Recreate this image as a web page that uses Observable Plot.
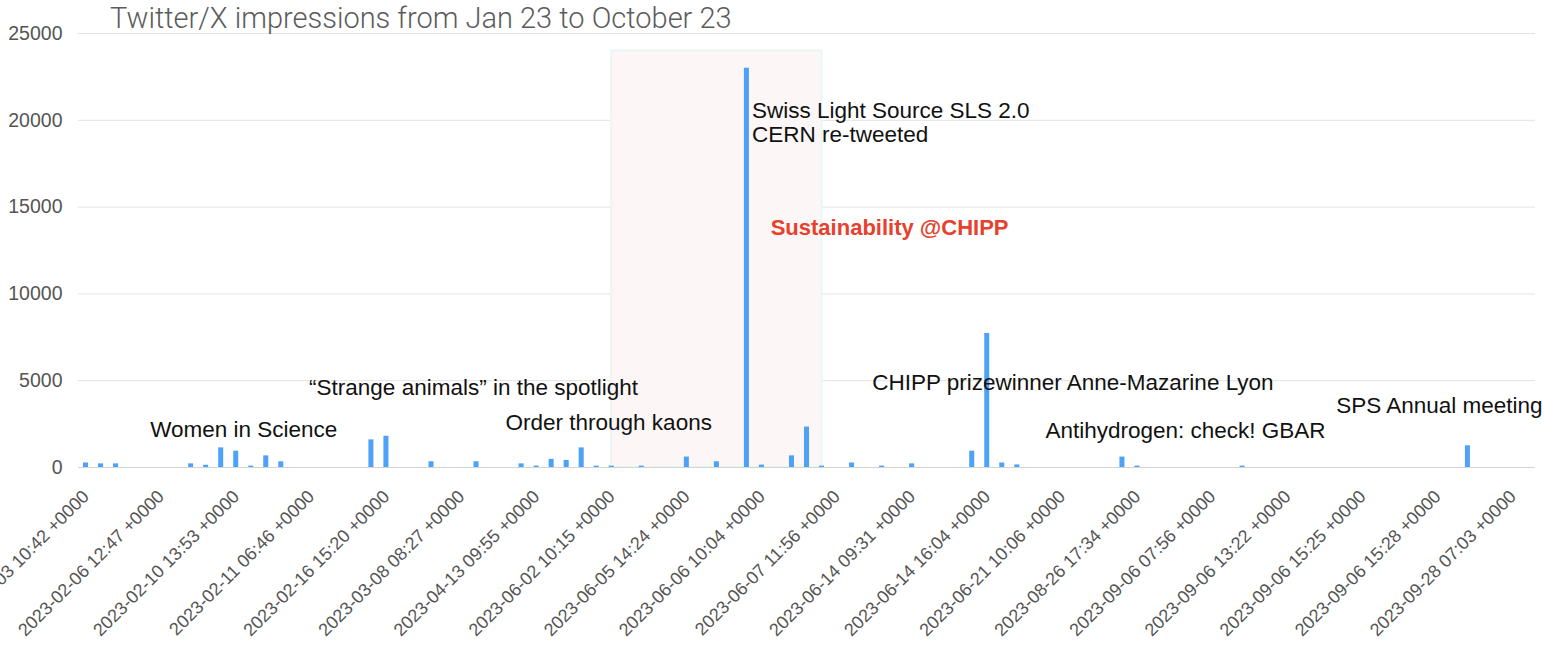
<!DOCTYPE html>
<html><head><meta charset="utf-8">
<script src="https://cdn.jsdelivr.net/npm/d3@7"></script>
<script src="https://cdn.jsdelivr.net/npm/@observablehq/plot@0.6"></script>
<style>
body{margin:0;background:#fff;}
#wrap{position:relative;width:1545px;height:647px;overflow:hidden;}
#title{position:absolute;left:110px;top:1px;font:300 29px Roboto;color:#5c5c5c;white-space:nowrap;}
</style></head><body>
<div id="wrap"><div id="title">Twitter/X impressions from Jan 23 to October 23</div></div>
<script>
// tick labels shown every 5th slot
const tickLabels = [
  "2023-02-03 10:42 +0000","2023-02-06 12:47 +0000","2023-02-10 13:53 +0000","2023-02-11 06:46 +0000",
  "2023-02-16 15:20 +0000","2023-03-08 08:27 +0000","2023-04-13 09:55 +0000","2023-06-02 10:15 +0000",
  "2023-06-05 14:24 +0000","2023-06-06 10:04 +0000","2023-06-07 11:56 +0000","2023-06-14 09:31 +0000",
  "2023-06-14 16:04 +0000","2023-06-21 10:06 +0000","2023-08-26 17:34 +0000","2023-09-06 07:56 +0000",
  "2023-09-06 13:22 +0000","2023-09-06 15:25 +0000","2023-09-06 15:28 +0000","2023-09-28 07:03 +0000"
];
const slotCount = 97;
// slot index of each non-zero bar and its impressions
const barIndex = [0,1,2,7,8,9,10,11,12,13,19,20,23,26,29,30,31,32,33,34,35,37,40,42,44,45,47,48,49,51,53,55,59,60,61,62,69,70,77,92];
const barValue = [260,210,210,210,130,1130,940,80,670,330,1590,1800,330,330,210,80,470,410,1130,80,80,80,600,330,23000,140,670,2330,80,260,80,210,940,7720,260,150,600,80,80,1250];
const yTicks = [0,5000,10000,15000,20000,25000];

// highlighted period
const highlightFrom = [35];
const highlightTo = [49];
const highlightTop = [24000];

// annotations (slot position, value position)
const noteLabels = ["Women in Science","\u201cStrange animals\u201d in the spotlight","Order through kaons","CHIPP prizewinner Anne-Mazarine Lyon","Antihydrogen: check! GBAR","SPS Annual meeting"];
const noteX = [10.5,25.8,34.8,65.7,73.2,90.1];
const noteY = [2190,4610,2590,4900,2130,3570];
const leftNoteLabels = ["Swiss Light Source SLS 2.0\nCERN re-tweeted"];
const leftNoteX = [44];
const leftNoteY = [19900];
const redNoteLabels = ["Sustainability @CHIPP"];
const redNoteX = [53.5];
const redNoteY = [13820];

const bars = barIndex.map((i, k) => ({i, v: barValue[k]}));
const highlight = highlightFrom.map((f, k) => ({from: f, to: highlightTo[k], top: highlightTop[k]}));
const notes = noteLabels.map((t, k) => ({t, x: noteX[k], y: noteY[k]}));
const leftNotes = leftNoteLabels.map((t, k) => ({t, x: leftNoteX[k], y: leftNoteY[k]}));
const redNotes = redNoteLabels.map((t, k) => ({t, x: redNoteX[k], y: redNoteY[k]}));

const chart = Plot.plot({
  width: 1545,
  height: 647,
  marginLeft: 78,
  marginRight: 10,
  marginTop: 33,
  marginBottom: 180,
  style: {fontFamily: "Liberation Sans, Arial, sans-serif", background: "transparent"},
  x: {domain: [-0.5, slotCount - 0.5]},
  y: {domain: [0, 25000]},
  marks: [
    Plot.ruleY(yTicks.slice(1), {stroke: "#e3e3e3", strokeWidth: 1}),
    Plot.rect(highlight, {x1: "from", x2: "to", y1: 0, y2: "top", fill: "#fcf6f6", stroke: "#eaf6f1", strokeWidth: 2}),
    Plot.ruleY([0], {stroke: "#d4d4d4", strokeWidth: 1.2}),
    Plot.rectY(bars, {x1: d => d.i - 0.5, x2: d => d.i + 0.5, y: "v", insetLeft: 5, insetRight: 5, fill: "#4ea2f6"}),
    Plot.axisY({ticks: yTicks, tickSize: 0, tickPadding: 16, fontSize: 19.5, color: "#555", tickFormat: d => String(d), label: null}),
    Plot.axisX({ticks: d3.range(0, slotCount, 5), tickFormat: i => tickLabels[i / 5], tickRotate: -45, tickSize: 0, tickPadding: 26, fontSize: 18, color: "#555", label: null}),
    Plot.text(notes, {x: "x", y: "y", text: "t", fontSize: 22.5, fill: "#111"}),
    Plot.text(leftNotes, {x: "x", y: "y", text: "t", fontSize: 22.5, fill: "#111", textAnchor: "start", dx: 5, lineHeight: 1.1}),
    Plot.text(redNotes, {x: "x", y: "y", text: "t", fontSize: 22, fontWeight: "bold", fill: "#e5412d"})
  ]
});
document.getElementById("wrap").prepend(chart);
</script>
</body></html>
